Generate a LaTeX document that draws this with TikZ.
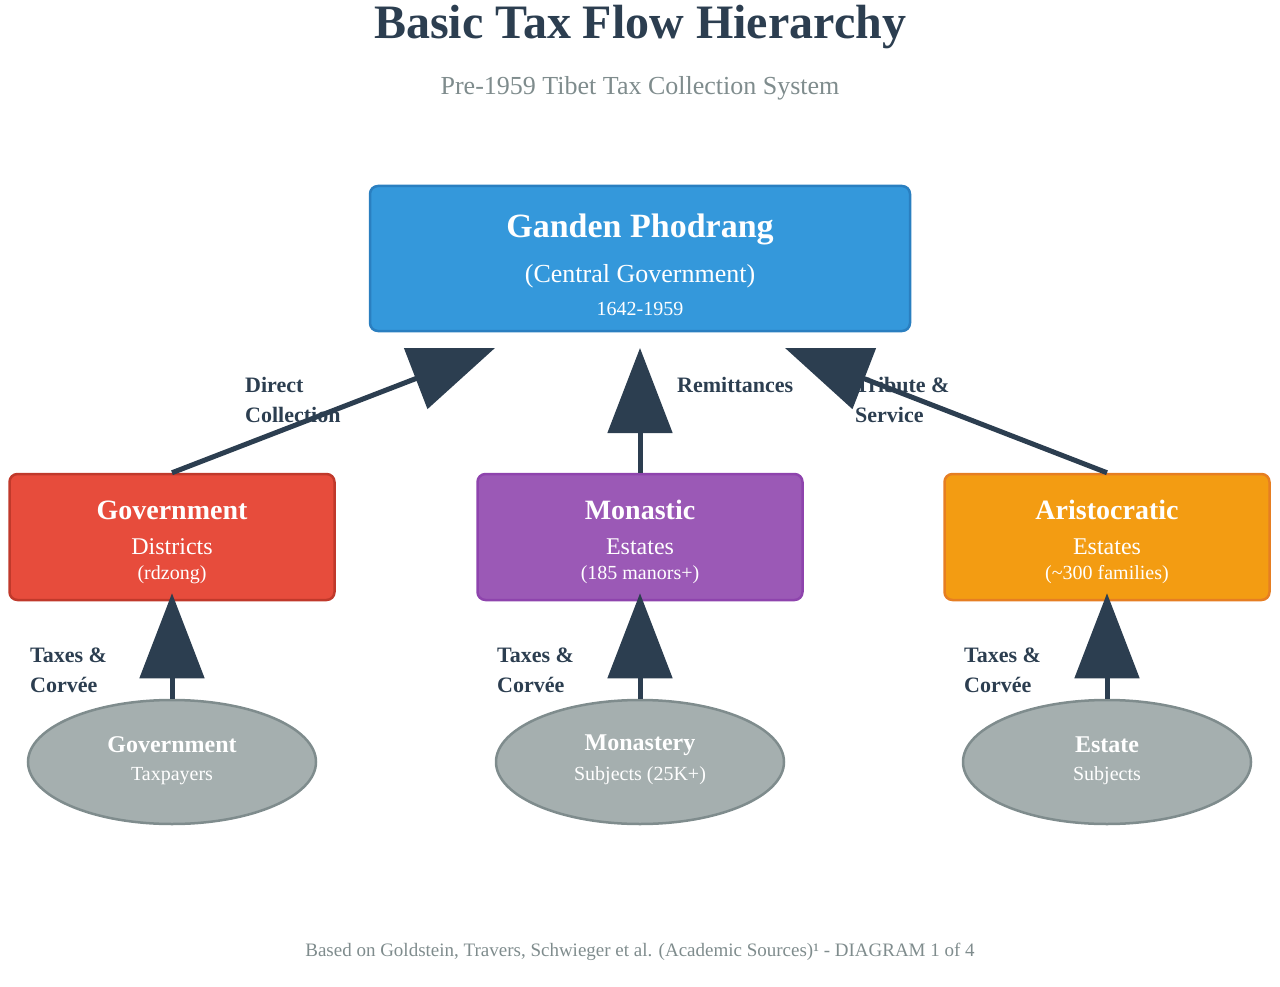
\documentclass[tikz,border=0pt]{standalone}
\usepackage{fontspec}
\setmainfont{Liberation Serif}
\usetikzlibrary{arrows.meta,shapes.geometric}
\definecolor{dark}{HTML}{2C3E50}
\definecolor{greyt}{HTML}{7F8C8D}
\definecolor{bluef}{HTML}{3498DB}
\definecolor{blued}{HTML}{2A7FC0}
\begin{document}
\begin{tikzpicture}[x=1pt,y=-1pt,
 box/.style={draw,line width=2.5pt,rounded corners=8pt,inner sep=0pt},
 ell/.style={ellipse,draw=greyt,fill=greyt!70!white,line width=2.5pt,minimum width=288pt,minimum height=124pt,inner sep=0pt},
 wt/.style={text=white,inner sep=0pt},
 lab/.style={text=dark,font=\bfseries\fontsize{22}{30}\selectfont,align=left,anchor=west,inner sep=0pt},
 arr/.style={draw=dark,line width=5pt,-{Triangle[length=85pt,width=64pt]}}]
\useasboundingbox (0,0) rectangle (1280,987);
\node[text=dark,font=\bfseries\fontsize{48}{50}\selectfont] (title) at (640,27) {Basic Tax Flow Hierarchy};
\node[text=greyt,font=\fontsize{26}{30}\selectfont] (sub) at (640,88) {Pre-1959 Tibet Tax Collection System};
\node[text=greyt,font=\fontsize{19}{22}\selectfont] (foot) at (640,952) {Based on Goldstein, Travers, Schwieger et al. (Academic Sources)¹ - DIAGRAM 1 of 4};
% top box
\node[box,draw=blued,fill=bluef,minimum width=540pt,minimum height=145pt] (gp) at (640,258.5) {};
\node[wt,font=\bfseries\fontsize{34}{36}\selectfont] (gp1) at (640,229) {Ganden Phodrang};
\node[wt,font=\fontsize{26}{28}\selectfont] (gp2) at (640,276) {(Central Government)};
\node[wt,font=\fontsize{20}{22}\selectfont] (gp3) at (640,309) {1642-1959};
% mid boxes
\foreach \n/\x/\f/\d/\a/\b/\c in {gov/172/E74C3C/C0392B/Government/Districts/(rdzong),mon/640/9B59B6/8E44AD/Monastic/Estates/(185 manors+),ari/1107/F39C12/E67E22/Aristocratic/Estates/(\textasciitilde300 families)}{
 \definecolor{f}{HTML}{\f}\definecolor{d}{HTML}{\d}
 \node[box,draw=d,fill=f,minimum width=325pt,minimum height=126pt] (\n) at (\x,537) {};
 \node[wt,font=\bfseries\fontsize{28}{30}\selectfont] (\n1) at (\x,510) {\a};
 \node[wt,font=\fontsize{24}{26}\selectfont] (\n2) at (\x,547) {\b};
 \node[wt,font=\fontsize{20}{22}\selectfont] (\n3) at (\x,575) {\c};
}
% ellipses
\foreach \n/\x/\a/\b in {ge/172/Government/Taxpayers,me/640/Monastery/Subjects (25K+),ee/1107/Estate/Subjects}{
 \node[ell] (\n) at (\x,762) {};
 \node[wt,font=\bfseries\fontsize{24}{26}\selectfont] (\n1) at (\x,745) {\a};
 \node[wt,font=\fontsize{20}{22}\selectfont] (\n2) at (\x,776) {\b};
}
% labels
\node[lab] (l1) at (245,400) {Direct\\Collection};
\node[lab] (l2) at (677,385) {Remittances};
\node[lab] (l3) at (855,400) {Tribute \&\\Service};
\foreach \n/\x in {t1/30,t2/497,t3/964}{\node[lab] (\n) at (\x,670) {Taxes \&\\Corvée};}
% arrow end points
\coordinate (e1) at (495,348);
\coordinate (e2) at (640,348);
\coordinate (e3) at (785,348);
\draw[arr] (gov.north) -- (e1);
\draw[arr] (mon.north) -- (e2);
\draw[arr] (ari.north) -- (e3);
\draw[arr] (ge.north) -- ([yshift=8pt]gov.south);
\draw[arr] (me.north) -- ([yshift=8pt]mon.south);
\draw[arr] (ee.north) -- ([yshift=8pt]ari.south);
\end{tikzpicture}
\end{document}
